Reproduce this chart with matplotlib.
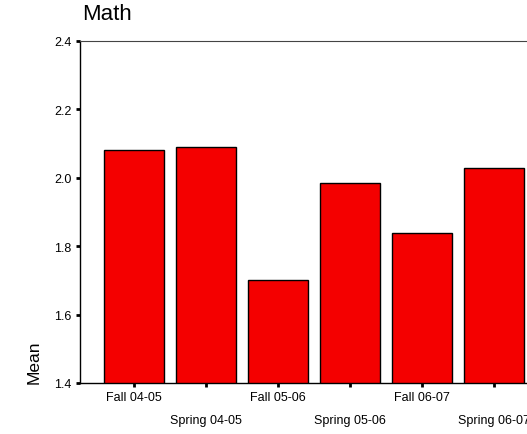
import numpy as np
import matplotlib
matplotlib.use("Agg")
import matplotlib.pyplot as plt

# data
terms = ["Fall 04-05", "Spring 04-05", "Fall 05-06", "Spring 05-06", "Fall 06-07", "Spring 06-07"]
means = [2.08, 2.09, 1.70, 1.985, 1.84, 2.03]
yticks = [1.4, 1.6, 1.8, 2.0, 2.2, 2.4]

plt.rcParams['font.family'] = ['Liberation Sans', 'DejaVu Sans']

fig = plt.figure(figsize=(5.27, 4.35), dpi=100)
# axes runs past the right edge, as in the reference
ax = fig.add_axes([80 / 527, 51 / 435, 468 / 527, 342 / 435])

x = np.arange(len(terms))
ax.bar(x, means, width=0.83, color="#f40000", edgecolor="black", linewidth=1, bottom=0)

ax.set_ylim(1.4, 2.4)
ax.set_xlim(-0.75, len(terms) - 0.25)
ax.set_yticks(yticks)
ax.set_yticklabels([f"{v:.1f}" for v in yticks], fontsize=9)

# alternate the tick labels on two rows
ax.set_xticks(x)
labels = [t if i % 2 == 0 else "\n" + t for i, t in enumerate(terms)]
ax.set_xticklabels(labels, fontsize=9, linespacing=2.2)

ax.tick_params(axis="both", direction="out", length=3, width=2, color="black", pad=3)
ax.spines["top"].set_color("#444444")
ax.spines["right"].set_visible(False)
for s in ["left", "bottom"]:
    ax.spines[s].set_color("black")
    ax.spines[s].set_linewidth(1)

ax.set_ylabel("Mean", fontsize=12.5)
ax.yaxis.set_label_coords(-0.081, 0.064)

fig.text(82 / 527, 1 - 15 / 435, "Math", fontsize=16, ha="left", va="center")

fig.savefig("out.png", dpi=100)
